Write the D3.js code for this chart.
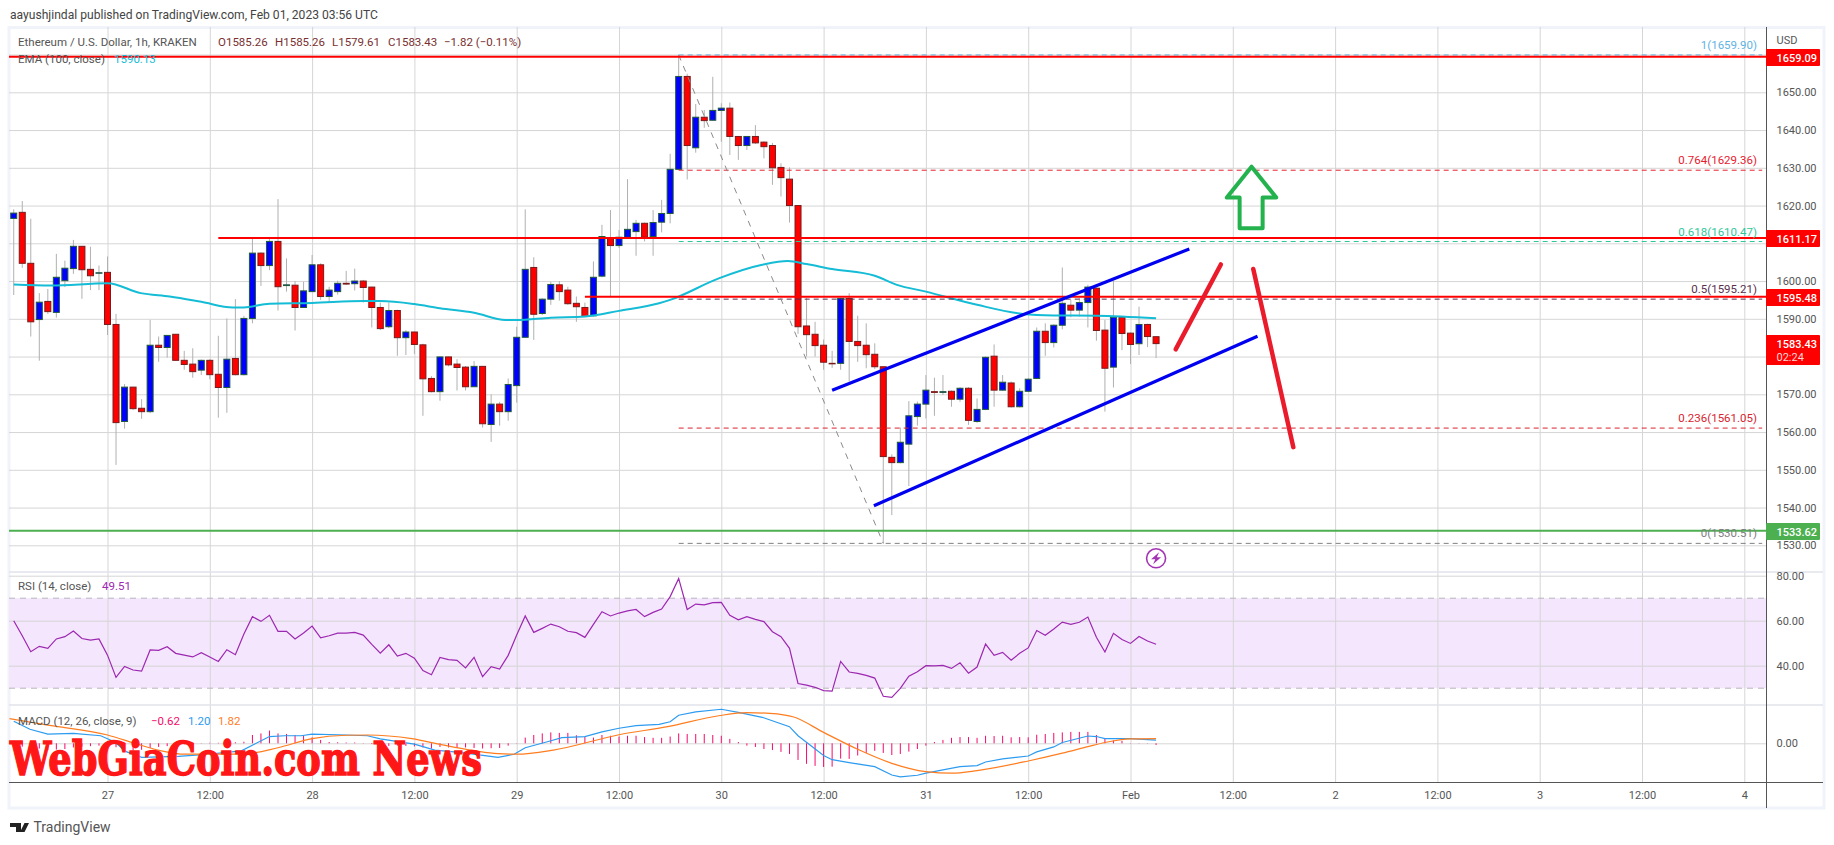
<!DOCTYPE html>
<html>
<head>
<meta charset="utf-8">
<title>ETH/USD</title>
<script src="https://cdn.jsdelivr.net/npm/d3@7"></script>
<style>
	html, body { margin: 0; padding: 0; background: #fff; }
	svg { display: block; font-family: Roboto, "Open Sans", sans-serif; }
</style>
</head>
<body>
<svg id="chart" width="1834" height="845"></svg>
<script>
// candles are hourly, first one is Jan 26 13:00, hours counted from Jan 27 00:00
var firstHour = -11;
var opens = [
	1616.6,1618.2,1604.7,1589.8,1594.6,1591.7,1600.1,1603.3,1609.2,1603.1,1602.1,
	1602.3,1588.5,1562.8,1571.9,1566.3,1565.4,1583,1582.4,1585.9,1579,
	1578,1576.4,1579,1575.3,1571.8,1579.5,1575.2,1590.1,1607.4,1604.1,
	1610.5,1598.8,1598.9,1593,1597.2,1604.3,1595.9,1597.2,1599.4,1599.3,
	1600,1598.4,1593,1587.9,1592.2,1585,1586.5,1583.1,1574.2,1570.7,
	1579.9,1578,1577.2,1572,1577.4,1562,1567.4,1565.4,1572.3,1585.1,
	1603.6,1591.4,1595.2,1599,1597.6,1594.1,1593,1590.8,1601.3,1611.4,
	1609.4,1611.6,1613.1,1615.3,1611.8,1615.6,1617.9,1629.6,1654.2,1635.3,
	1643.4,1642.6,1645.2,1645.8,1638.3,1635.9,1638.3,1636.8,1635.9,1630.1,
	1627,1620,1588.1,1585.9,1583,1578.2,1578.2,1595.4,1584,1583,
	1580.6,1577.3,1553.3,1551.9,1556.8,1564.1,1567.4,1570.7,1570.5,1570.8,
	1568.7,1571.6,1562.8,1566,1580.1,1571.1,1573,1566.7,1570.8,1574.2,
	1586.7,1583.7,1588.3,1593.6,1592.3,1594.3,1598.1,1587,1577.2,1590.4,
	1586.2,1583.4,1588.5,1585.26
];
var highs = [
	1619,1621.2,1616.5,1596.8,1597.9,1607.2,1605.4,1610.9,1609.3,1609.1,1604.1,
	1606.5,1591.3,1572.7,1572,1568.7,1589.7,1585.3,1585.7,1585.9,1581.5,
	1582.2,1579.2,1579.3,1585.5,1590.1,1595.2,1590.8,1611.3,1607.6,1611.3,
	1621.7,1606,1600,1599.8,1606.9,1604.7,1598.5,1600.1,1602.7,1603.3,
	1600.3,1598.5,1594.3,1594.3,1592.4,1587,1586.6,1583.4,1574.8,1580,
	1580,1579.3,1577.5,1578.8,1577.5,1570,1568,1574.2,1587.9,1619,
	1606.3,1595.4,1599.8,1600,1598.5,1595.9,1594.3,1605.2,1614.9,1618.8,
	1613.5,1627,1616.2,1615.5,1618.8,1621.5,1633.7,1659.9,1654.9,1646.9,
	1645.3,1654.1,1647.1,1647.3,1638.4,1638.4,1641.3,1637,1636.6,1631.2,
	1630.1,1620.1,1595.5,1589.2,1584.5,1581.5,1595.6,1596.8,1590.8,1588.8,
	1583.5,1577.4,1554.1,1561.2,1568.2,1568.1,1575.1,1574.4,1575.1,1571,
	1571.9,1571.9,1568.9,1580,1583.2,1575.1,1573.4,1571.6,1574.2,1587.7,
	1588.8,1588.5,1603.6,1595,1595.5,1599,1598.3,1589.7,1600.1,1590.6,
	1586.4,1593.2,1588.7,1585.26
];
var lows = [
	1596.3,1603.5,1585.3,1578.9,1591.3,1590.3,1598.4,1601.9,1595.3,1597.6,1597.6,
	1585.7,1551.3,1560.9,1565.8,1563.5,1565,1578.6,1579.7,1579,1576.5,
	1574.4,1575.1,1574,1563.8,1565.1,1575,1575,1588.8,1598.7,1602.9,
	1592.2,1597.2,1586.9,1593,1597.2,1595,1594.3,1596.4,1599,1597.5,
	1594.3,1587.7,1587,1587.5,1580.2,1580.4,1580.7,1564.3,1570.5,1568.3,
	1577.4,1571,1571,1572,1561.2,1557.4,1561.7,1563,1567.8,1585,
	1584.4,1591,1593.7,1594.8,1593.7,1589.2,1590.5,1590.6,1601,1595.7,
	1608.8,1611.5,1606.7,1610.5,1606.7,1612.9,1615.3,1629.4,1626.9,1634,
	1640.6,1642.5,1636.9,1633.4,1632.1,1634.7,1636.3,1632.5,1625.5,1622.4,
	1615.5,1586,1580,1580,1576.5,1577,1576.5,1573.4,1578.6,1576.9,
	1576.7,1530.51,1538,1551.7,1545.7,1561.7,1563.6,1564.3,1569.8,1566.7,
	1568,1561.9,1562.4,1565.8,1566.7,1570.9,1566.5,1566.5,1570.6,1574,
	1580.2,1582.4,1587.2,1590.4,1590.6,1587.7,1584.2,1565.4,1571.8,1581.7,
	1578,1580.4,1582.5,1579.61
];
var closes = [
	1618,1604.7,1589.2,1594.4,1591.9,1601,1603.4,1609.2,1603,1601.4,1602.2,
	1588.5,1562.5,1571.9,1566.2,1565.4,1583,1582.4,1585.6,1579,1577.9,
	1576,1579,1575.2,1571.8,1579.3,1575.2,1590.1,1607.4,1604.1,1610.5,
	1598.5,1599,1593,1597.4,1604.3,1595.9,1597.6,1599.4,1599.2,1600,
	1598.3,1593,1587.4,1592.2,1585,1586.5,1583.2,1574.1,1570.7,1579.9,
	1577.8,1577.1,1572,1577.4,1562.2,1567.4,1565.4,1572.6,1585.1,1603.1,
	1591.2,1595.2,1599.1,1597.2,1594,1593.2,1590.6,1601,1611.8,1609.4,
	1611.6,1613.7,1615.3,1611.6,1615.5,1617.9,1629.6,1654.2,1635.9,1643.4,
	1642.5,1645.2,1645.8,1638.3,1635.9,1638.3,1636.6,1635.6,1630,1627.4,
	1620,1587.9,1585.8,1582.9,1578.5,1578.1,1595.4,1584,1582.9,1580.5,
	1577.3,1553.5,1551.9,1557.3,1564.3,1567.4,1571.1,1570.5,1570.7,1568.7,
	1571.6,1563.1,1566,1579.8,1571.1,1573.2,1566.7,1570.8,1574,1586.7,
	1583.7,1588.3,1594.1,1592.3,1594.3,1598.4,1586.9,1576.9,1590.4,1586.1,
	1583.2,1588.5,1585.3,1583.43
];

// EMA 100, read at the bends of the line
var emaHours = [-11,-6.6,0,3.9,7.3,11,14.7,16,19,24,30,32,36,39,43,46.7,48,52,56,60,64.7,66,71.7,76.8,79.8,82,85,90,92.6,96,102,107.4,111,116,123];
var emaValues = [1599.1,1598.8,1599.4,1596.8,1595.9,1594.5,1593,1593,1594,1594.2,1594.7,1594.7,1593.9,1592.8,1591.6,1589.7,1589.7,1590.3,1590.6,1592.1,1594.1,1595,1600.7,1604.3,1605.3,1604.5,1603.2,1601.4,1599,1597.2,1593.7,1591.3,1590.9,1590.8,1590.13];

var rsiValues = [
	60,53.3,46.2,48.6,47.7,51.9,52.9,55.4,52.1,51.4,51.9,
	44.7,34.8,39.7,38.1,37.6,47,46.8,48.4,45.5,44.7,
	43.9,45.8,43.9,41.9,47.1,44.9,54.1,61.8,59.7,62.4,
	55.3,55.3,51.9,54.5,57.6,52.4,53.3,54.5,54.5,54.8,
	53.6,49.5,45.6,49.3,44.3,45.5,43.3,37.8,36,43.7,
	42.7,42.4,39,43.7,35.1,39.6,38.5,44.6,53.6,62.1,
	54.8,56.6,58.5,57.3,55.3,54.7,52.6,58.4,64,62.1,
	63.4,64.4,65,61.8,63.7,65.2,70.7,78.8,65,67.4,
	67,68,68.1,62.4,60.4,61.8,60.6,59.6,55.1,52.9,
	47.7,32.1,31.4,30.4,28.9,28.7,41.9,37.2,36.6,35.7,
	34.5,26.4,25.9,29.9,35.3,37.3,40,39.9,40.1,38.8,
	41.3,36.7,39.4,49.6,44.6,45.9,42.4,45.5,47.9,55.6,
	53.5,56.3,59.4,58.4,59.3,61.6,52.6,46.1,54.4,51.6,
	49.9,53,51,49.51
];

var histValues = [
	-1,-1.3,-1.6,-2,-2.6,-2.4,-2.2,-1.6,-1.3,-1.1,-0.9,
	-0.8,-1.5,-2.3,-2.8,-2.5,-1.8,-1.4,-1.1,-0.8,-0.4,
	-0.3,0.1,0.2,0.2,0.3,0.4,0.6,3.2,3.8,4.9,
	3.8,3.6,3.2,2.8,2.3,1.3,0.5,0.4,0.3,0.3,
	0.1,-0.3,-0.8,-1,-0.9,-1,-1.2,-1.6,-2,-1.4,
	-1.6,-1.8,-1.6,-1.8,-2,-1.9,-1.8,-0.9,0.1,2.2,
	3.2,3.8,4.2,4,4,3.1,2.6,2.2,3.2,2.9,
	2.6,2.9,2.9,2.4,2.1,2.1,2.6,3.8,3.6,3.6,
	3.6,3.2,2.9,1.7,0.5,-0.9,-1.4,-2.2,-2.6,-3.3,
	-4.1,-6.4,-7.9,-8.7,-9.1,-9,-5.9,-6,-4.7,-3.7,
	-2.9,-3.7,-4.5,-4.1,-3.2,-2.2,-0.9,0.5,1.3,2.1,
	2.4,2.4,2.1,2.9,2.8,2.9,2.3,2.4,2.3,3.3,
	3.6,4,4.2,4.4,4.4,4.4,3.2,1.7,1.1,0.9,
	0.1,0.1,0.1,-0.62
];

var macdHours = [-11,-9.1,-7,-4,-0.8,0.8,2.2,4,8.3,12,15.7,19,20.8,22.7,24,28,30.5,32,36,38.4,41.6,45.8,47.7,49,51.6,53.3,56,58,60,62,64.7,66,67,69,72,74,76.8,80,81,84,85,87,90,92,93,95,96,100,102,103,105,108,109,111,112,115,116,117,120,123];
var macdValues = [8.5,5.4,3.5,3.8,2.9,0.6,-3.2,-5.4,-5,-4.2,-2.9,2.6,2.9,2.9,3.5,3.2,2.9,1.7,-0.3,-2.6,-3.6,-5.4,-4.2,-1.7,0.6,2.2,2.6,4.4,5.8,6.8,7.3,8.3,10.8,12.1,13.1,11.9,10,6.4,2.9,-4.7,-6.3,-7.4,-9,-12.2,-12.9,-12.3,-11.5,-9,-8.6,-7.2,-6,-4.9,-3.3,-1.4,0.3,2.8,2.6,1.8,1.8,1.2];
var signalHours = [-11.5,-7,0,3.2,5.9,9.2,15.7,20,24,28,30.5,35.7,39.3,43,45.8,48,52.3,60,65.7,71.7,75,77.7,80.5,84,88,92,96,99,102,108,112,115,117,120,123];
var signalValues = [9.5,7,3.2,0,-2.6,-4.2,-4.2,-1.7,1.8,3.1,3.2,1.8,-0.6,-2.8,-4,-4.2,-2.6,3.3,6.4,10.6,11.8,11.5,10.1,4.2,-2.3,-7.7,-10.9,-11.5,-10.5,-6.8,-3.8,-1.3,0.3,1.7,1.82];

var priceGridTicks = [1530,1540,1550,1560,1570,1580,1590,1600,1610,1620,1630,1640,1650,1660];
var priceLabelTicks = [1530,1540,1550,1560,1570,1590,1600,1620,1630,1640,1650];
var rsiTicks = [80,60,40];
var macdTicks = [0];
var timeTicks = [0,12,24,36,48,60,72,84,96,108,120,132,144,156,168,180,192];
var timeLabels = ["27","12:00","28","12:00","29","12:00","30","12:00","31","12:00","Feb","12:00","2","12:00","3","12:00","4"];

var fibPrices = [1659.9,1629.36,1610.47,1595.21,1561.05,1530.51];
var fibLabels = ["1(1659.90)","0.764(1629.36)","0.618(1610.47)","0.5(1595.21)","0.236(1561.05)","0(1530.51)"];
var fibColors = ["#5fb3e3","#e8202e","#2fc79a","#5a2f4e","#d8252f","#808080"];
var fibStart = 67;
var fibEnd = 194.1;

var levelPrices = [1659.4,1611.4,1595.85,1533.85];
var levelLabels = ["1659.09","1611.17","1595.48","1533.62"];
var levelStarts = [-12.5,13,56,-12.5];
var levelColors = ["#ff0000","#ff0000","#ff0000","#4caf50"];

var channelHours = [[85,126.9],[89.9,134.9]];
var channelPrices = [[1571.1,1608.5],[1540.5,1585.4]];
var strokeHours = [[125.3,130.6],[134.4,139.1]];
var strokePrices = [[1581.9,1604.4],[1603.2,1556]];
var arrowHours = [134.2,131.3,132.8,132.8,135.5,135.5,137.1];
var arrowPrices = [1630.3,1622.1,1622.1,1614,1614,1622.1,1622.1];

var plotLeft = 9, plotRight = 1766, paneRight = 1823;
var priceTop = 27, priceBottom = 572, rsiBottom = 705, macdBottom = 782, frameBottom = 808;

var svg = d3.select("#chart");

var x = d3.scaleLinear().domain([0, 192]).range([107.5, 1744.3]);
var y = d3.scaleLinear().domain([1650, 1530]).range([92.3, 545.3]);
var yRsi = d3.scaleLinear().domain([60, 40]).range([620.7, 665.7]);
var yMacd = d3.scaleLinear().domain([0, -10]).range([743.3, 769.3]);

var candles = d3.range(opens.length).map(function(i) {
	return {hour: firstHour + i, o: opens[i], h: highs[i], l: lows[i], c: closes[i], rsi: rsiValues[i], hist: histValues[i]};
});

// frame
svg.append("rect").attr("x", 9).attr("y", 27.5).attr("width", 1815).attr("height", 780.5)
	.attr("fill", "none").attr("stroke", "#f0f3fa").attr("stroke-width", 3);

function clipPane(id, top, bottom) {
	svg.append("clipPath").attr("id", id).append("rect")
		.attr("x", plotLeft).attr("y", top).attr("width", plotRight - plotLeft).attr("height", bottom - top);
}
clipPane("clipPrice", priceTop, priceBottom);
clipPane("clipRsi", priceBottom, rsiBottom);
clipPane("clipMacd", rsiBottom, macdBottom);

// rsi band goes under the grid
svg.append("rect")
	.attr("x", plotLeft).attr("width", plotRight - plotLeft)
	.attr("y", yRsi(70)).attr("height", yRsi(30) - yRsi(70))
	.attr("fill", "#f4e6fd");

function gridStyle(g) {
	g.select(".domain").remove();
	g.selectAll("text").remove();
	g.selectAll("line").attr("stroke", "#d6d6d6").attr("stroke-width", 1);
}

var gridWidth = plotRight - plotLeft;
svg.append("g").attr("transform", "translate(" + plotRight + ",0)")
	.call(d3.axisLeft(y).tickValues(priceGridTicks).tickSize(gridWidth)).call(gridStyle);
svg.append("g").attr("transform", "translate(" + plotRight + ",0)")
	.call(d3.axisLeft(yRsi).tickValues(rsiTicks).tickSize(gridWidth)).call(gridStyle);
svg.append("g").attr("transform", "translate(" + plotRight + ",0)")
	.call(d3.axisLeft(yMacd).tickValues(macdTicks).tickSize(gridWidth)).call(gridStyle);
svg.append("g").attr("transform", "translate(0," + macdBottom + ")")
	.call(d3.axisTop(x).tickValues(timeTicks).tickSize(macdBottom - priceTop)).call(gridStyle);

// pane separators
[priceBottom, rsiBottom].forEach(function(py) {
	svg.append("line").attr("x1", plotLeft).attr("x2", paneRight).attr("y1", py).attr("y2", py)
		.attr("stroke", "#e0e3eb").attr("stroke-width", 1.5);
});

/***** price pane *****/
var price = svg.append("g").attr("clip-path", "url(#clipPrice)");

price.selectAll("line.wick").data(candles).enter().append("line")
	.attr("class", "wick")
	.attr("x1", function(d) { return x(d.hour); })
	.attr("x2", function(d) { return x(d.hour); })
	.attr("y1", function(d) { return y(d.h); })
	.attr("y2", function(d) { return y(d.l); })
	.attr("stroke", "#b0b0b0").attr("stroke-width", 1);

price.selectAll("rect.body").data(candles).enter().append("rect")
	.attr("class", "body")
	.attr("x", function(d) { return x(d.hour) - 3; })
	.attr("width", 6)
	.attr("y", function(d) { return y(Math.max(d.o, d.c)); })
	.attr("height", function(d) { return Math.max(0.5, Math.abs(y(d.o) - y(d.c))); })
	.attr("fill", function(d) { return d.c >= d.o ? "#0000ff" : "#ff0000"; })
	.attr("stroke", function(d) { return d.c >= d.o ? "#1f5a3a" : "#7a1a1a"; })
	.attr("stroke-width", 1);

var emaLine = d3.line()
	.x(function(d) { return x(d[0]); })
	.y(function(d) { return y(d[1]); })
	.curve(d3.curveMonotoneX);
price.append("path").datum(d3.zip(emaHours, emaValues))
	.attr("d", emaLine).attr("fill", "none")
	.attr("stroke", "#14bcd6").attr("stroke-width", 2);

// fib retracement
fibPrices.forEach(function(p, i) {
	price.append("line")
		.attr("x1", x(fibStart)).attr("x2", x(fibEnd))
		.attr("y1", y(p)).attr("y2", y(p))
		.attr("stroke", fibColors[i]).attr("stroke-width", 1)
		.attr("stroke-dasharray", "5,4");
});
price.append("line")
	.attr("x1", x(fibStart)).attr("y1", y(fibPrices[0]))
	.attr("x2", x(91)).attr("y2", y(fibPrices[5]))
	.attr("stroke", "#8a8a8a").attr("stroke-width", 1)
	.attr("stroke-dasharray", "6,6");

// horizontal levels
levelPrices.forEach(function(p, i) {
	price.append("line")
		.attr("x1", x(levelStarts[i])).attr("x2", plotRight)
		.attr("y1", y(p)).attr("y2", y(p))
		.attr("stroke", levelColors[i]).attr("stroke-width", 2);
});

// channel
channelHours.forEach(function(h, i) {
	price.append("line")
		.attr("x1", x(h[0])).attr("x2", x(h[1]))
		.attr("y1", y(channelPrices[i][0])).attr("y2", y(channelPrices[i][1]))
		.attr("stroke", "#0000f0").attr("stroke-width", 3.2);
});

// hand drawn strokes
strokeHours.forEach(function(h, i) {
	price.append("line")
		.attr("x1", x(h[0])).attr("x2", x(h[1]))
		.attr("y1", y(strokePrices[i][0])).attr("y2", y(strokePrices[i][1]))
		.attr("stroke", "#ea1c2c").attr("stroke-width", 4.5).attr("stroke-linecap", "round");
});

price.append("path")
	.datum(d3.zip(arrowHours, arrowPrices))
	.attr("d", d3.line().x(function(d) { return x(d[0]); }).y(function(d) { return y(d[1]); }).curve(d3.curveLinearClosed))
	.attr("fill", "none").attr("stroke", "#24b24f").attr("stroke-width", 4).attr("stroke-linejoin", "round");

// fib labels
fibPrices.forEach(function(p, i) {
	svg.append("text")
		.attr("x", 1757).attr("y", y(p) - 6)
		.attr("text-anchor", "end").attr("font-size", 11.5)
		.attr("fill", fibColors[i])
		.text(fibLabels[i]);
});

// lightning mark
var icon = svg.append("g").attr("transform", "translate(" + x(123) + ",558.3)");
icon.append("circle").attr("r", 9.5).attr("fill", "#fff").attr("stroke", "#a335b5").attr("stroke-width", 1.6);
icon.append("path").attr("d", "M3,-6 L-5,1 L-0.8,1 L-3,6 L5,-1 L0.8,-1 Z").attr("fill", "#a335b5");

/***** rsi pane *****/
var rsiPane = svg.append("g").attr("clip-path", "url(#clipRsi)");
[70, 30].forEach(function(v) {
	rsiPane.append("line").attr("x1", plotLeft).attr("x2", plotRight).attr("y1", yRsi(v)).attr("y2", yRsi(v))
		.attr("stroke", "#b8b4bc").attr("stroke-width", 1).attr("stroke-dasharray", "6,5");
});
rsiPane.append("path").datum(candles)
	.attr("d", d3.line().x(function(d) { return x(d.hour); }).y(function(d) { return yRsi(d.rsi); }))
	.attr("fill", "none").attr("stroke", "#9c27b0").attr("stroke-width", 1.2);

/***** macd pane *****/
var macdPane = svg.append("g").attr("clip-path", "url(#clipMacd)");
macdPane.selectAll("line.hist").data(candles).enter().append("line")
	.attr("class", "hist")
	.attr("x1", function(d) { return x(d.hour); })
	.attr("x2", function(d) { return x(d.hour); })
	.attr("y1", yMacd(0))
	.attr("y2", function(d) { return yMacd(d.hist); })
	.attr("stroke", "#f50a6a").attr("stroke-width", 1);

var macdLine = d3.line().x(function(d) { return x(d[0]); }).y(function(d) { return yMacd(d[1]); });
macdPane.append("path").datum(d3.zip(macdHours, macdValues))
	.attr("d", macdLine).attr("fill", "none").attr("stroke", "#2d9bf0").attr("stroke-width", 1.2);
macdPane.append("path").datum(d3.zip(signalHours, signalValues))
	.attr("d", macdLine.curve(d3.curveMonotoneX)).attr("fill", "none").attr("stroke", "#ff7d1f").attr("stroke-width", 1.2);

/***** axes *****/
function axisStyle(g) {
	g.select(".domain").remove();
	g.selectAll("line").remove();
	g.selectAll("text").attr("font-size", 11).attr("fill", "#555").attr("font-family", "Roboto, sans-serif");
}
svg.append("g").attr("transform", "translate(1766,0)")
	.call(d3.axisRight(y).tickValues(priceLabelTicks).tickFormat(d3.format(".2f")).tickPadding(10.5).tickSize(0)).call(axisStyle);
svg.append("g").attr("transform", "translate(1766,0)")
	.call(d3.axisRight(yRsi).tickValues(rsiTicks).tickFormat(d3.format(".2f")).tickPadding(10.5).tickSize(0)).call(axisStyle);
svg.append("g").attr("transform", "translate(1766,0)")
	.call(d3.axisRight(yMacd).tickValues(macdTicks).tickFormat(d3.format(".2f")).tickPadding(10.5).tickSize(0)).call(axisStyle);
svg.append("g").attr("transform", "translate(0," + macdBottom + ")")
	.call(d3.axisBottom(x).tickValues(timeTicks).tickFormat(function(d, i) { return timeLabels[i]; }).tickPadding(9).tickSize(0))
	.call(axisStyle);

svg.append("line").attr("x1", plotLeft).attr("x2", paneRight).attr("y1", macdBottom + 0.5).attr("y2", macdBottom + 0.5)
	.attr("stroke", "#555").attr("stroke-width", 1);
svg.append("line").attr("x1", plotRight + 0.5).attr("x2", plotRight + 0.5).attr("y1", priceTop).attr("y2", frameBottom)
	.attr("stroke", "#555").attr("stroke-width", 1);

// price boxes on the axis
levelLabels.forEach(function(label, i) {
	var cy = [57.5, 238.5, 297.5, 531.5][i];
	svg.append("rect").attr("x", plotRight).attr("y", cy - 8.5).attr("width", 54).attr("height", 17)
		.attr("rx", 1).attr("fill", levelColors[i]);
	svg.append("text").attr("x", plotRight + 10.5).attr("y", cy + 4).attr("font-size", 11).attr("font-weight", 500)
		.attr("fill", "#fff").text(label);
});
svg.append("rect").attr("x", plotRight).attr("y", 335).attr("width", 54).attr("height", 30).attr("rx", 1).attr("fill", "#ff0000");
svg.append("text").attr("x", plotRight + 10.5).attr("y", 348).attr("font-size", 11).attr("font-weight", 500).attr("fill", "#fff").text("1583.43");
svg.append("text").attr("x", plotRight + 10.5).attr("y", 361).attr("font-size", 11).attr("fill", "#ffd6d6").text("02:24");
svg.append("text").attr("x", plotRight + 10.5).attr("y", 44).attr("font-size", 11).attr("fill", "#555").text("USD");

/***** legends *****/
function legend(px, py, str, color) {
	svg.append("text").attr("x", px).attr("y", py).attr("font-size", 11.5).attr("fill", color).text(str);
}
var ohlcColor = "#7a3030";
legend(18, 46, "Ethereum / U.S. Dollar, 1h, KRAKEN", "#555");
legend(218, 46, "O1585.26", ohlcColor);
legend(275, 46, "H1585.26", ohlcColor);
legend(332, 46, "L1579.61", ohlcColor);
legend(388, 46, "C1583.43", ohlcColor);
legend(444, 46, "\u22121.82 (\u22120.11%)", ohlcColor);
legend(18, 63, "EMA (100, close)", "#555");
legend(114, 63, "1590.13", "#14bcd6");
legend(18, 590, "RSI (14, close)", "#555");
legend(102, 590, "49.51", "#9c27b0");
legend(18, 725, "MACD (12, 26, close, 9)", "#555");
legend(151, 725, "\u22120.62", "#f50a6a");
legend(188, 725, "1.20", "#2d9bf0");
legend(218, 725, "1.82", "#ff7d1f");

svg.append("text").attr("x", 10).attr("y", 19).attr("font-size", 12.1).attr("fill", "#444")
	.text("aayushjindal published on TradingView.com, Feb 01, 2023 03:56 UTC");

// watermark on top of the macd pane
svg.append("text").attr("x", 10).attr("y", 775)
	.style("font-family", "'DejaVu Serif', serif").style("font-weight", 700).style("font-size", "46px")
	.attr("textLength", 472).attr("lengthAdjust", "spacingAndGlyphs")
	.attr("fill", "#ff1616").attr("stroke", "#ff1616").attr("stroke-width", 1.5)
	.text("WebGiaCoin.com News");

// footer
svg.append("path").attr("d", "M10,823 h11 v9 h-5 v-5 h-6 Z M29,823 l-4.5,9 h-4.5 l4.5,-9 Z").attr("fill", "#222");
svg.append("circle").attr("cx", 22.5).attr("cy", 825).attr("r", 0).attr("fill", "#222");
svg.append("text").attr("x", 33.5).attr("y", 832).attr("font-size", 14).attr("fill", "#555").text("TradingView");
</script>
</body>
</html>
